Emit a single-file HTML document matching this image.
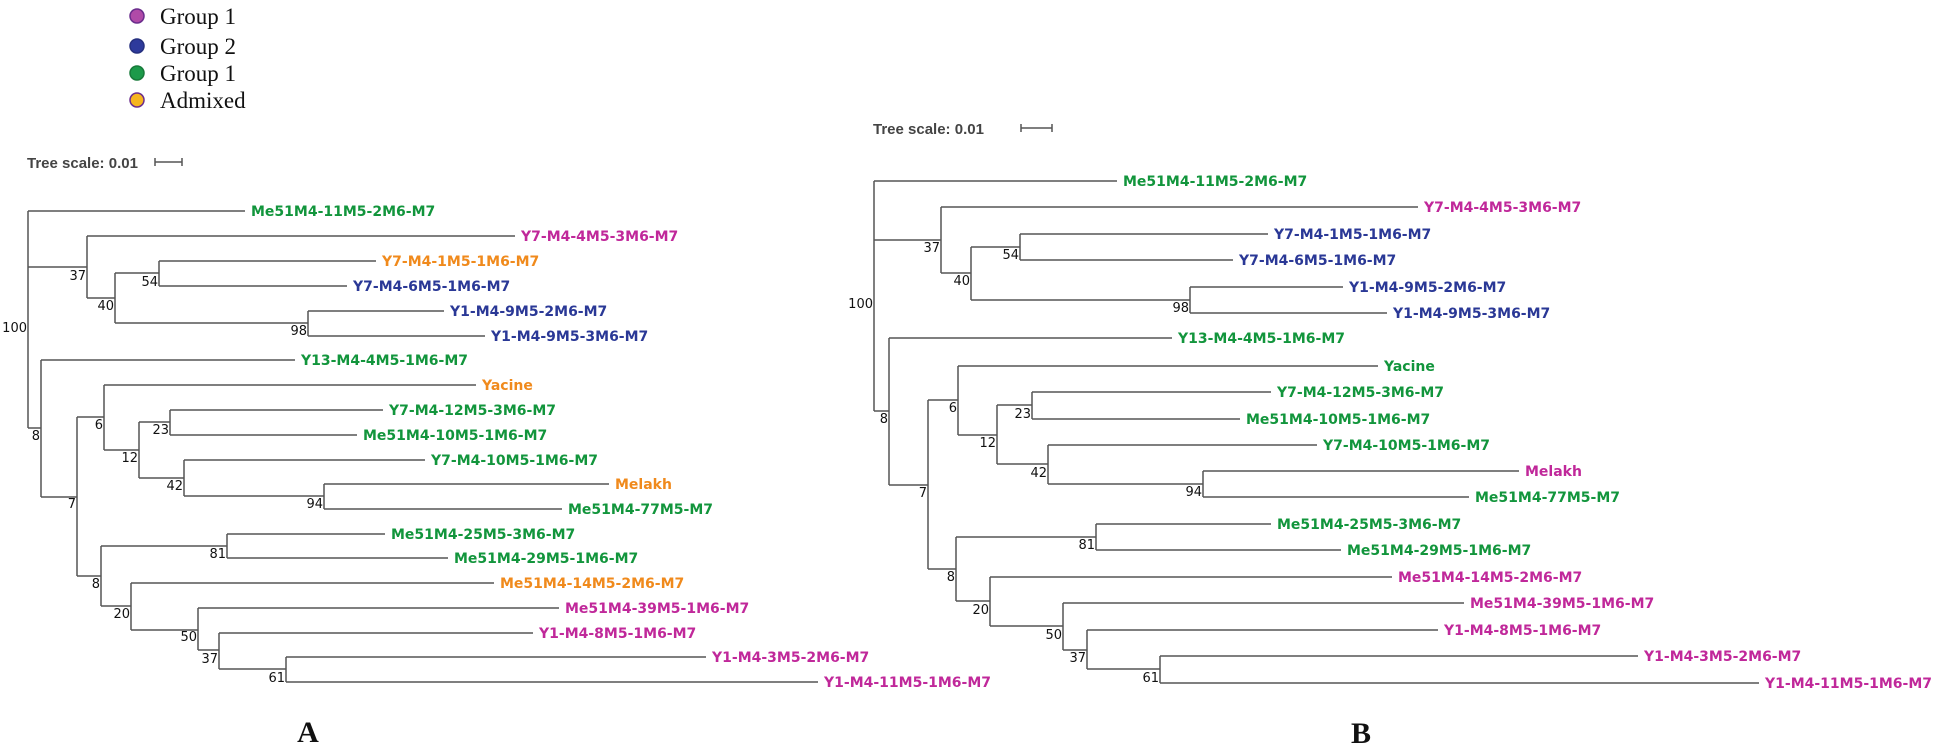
<!DOCTYPE html>
<html><head><meta charset="utf-8"><style>
html,body{margin:0;padding:0;background:#fff;}
svg{display:block;}
.b{stroke:#555;stroke-width:1.5;fill:none;}
.l{font-family:"DejaVu Sans","Liberation Sans",sans-serif;font-weight:bold;font-size:14px;}
.n{font-family:"DejaVu Sans","Liberation Sans",sans-serif;font-size:13px;fill:#111;text-anchor:end;}
.g{fill:#12953c}.m{fill:#c0289a}.u{fill:#2a3896}.o{fill:#f08a1c}
.ts{font-family:"Liberation Sans",sans-serif;font-weight:bold;font-size:15px;fill:#444;}
.lg{font-family:"Liberation Serif",serif;font-size:23px;fill:#111;}
.big{font-family:"Liberation Serif",serif;font-weight:bold;font-size:30px;fill:#111;text-anchor:middle;}
</style></head><body>
<svg width="1948" height="751" viewBox="0 0 1948 751" xmlns="http://www.w3.org/2000/svg">
<!-- legend -->
<circle cx="137" cy="16" r="7" fill="#b04aa8" stroke="#6a2c8c" stroke-width="1.5"/>
<circle cx="137" cy="46" r="7" fill="#2e3a9c" stroke="#26307f" stroke-width="1.5"/>
<circle cx="137" cy="73" r="7" fill="#1c9a4a" stroke="#177a3a" stroke-width="1.5"/>
<circle cx="137" cy="100" r="7" fill="#f6b51e" stroke="#6a2c8c" stroke-width="1.5"/>
<text class="lg" x="160" y="24">Group 1</text>
<text class="lg" x="160" y="54">Group 2</text>
<text class="lg" x="160" y="81">Group 1</text>
<text class="lg" x="160" y="108">Admixed</text>

<!-- Tree A -->
<text class="ts" x="27" y="168">Tree scale: 0.01</text>
<path class="b" d="M155 162H182M155 158V166M182 158V166"/>
<path class="b" d="
M28 211V428M28 211H245M28 267H87M28 428H41
M87 236V298M87 236H515M87 298H115
M115 273V323M115 273H159M115 323H308
M159 261V286M159 261H376M159 286H347
M308 311V336M308 311H444M308 336H485
M41 360V497M41 360H295M41 497H77
M77 417V576M77 417H104M77 576H101
M104 385V450M104 385H476M104 450H139
M139 422V478M139 422H170M139 478H184
M170 410V435M170 410H383M170 435H357
M184 460V496M184 460H425M184 496H324
M324 484V509M324 484H609M324 509H562
M101 546V606M101 546H227M101 606H131
M227 534V558M227 534H385M227 558H448
M131 583V630M131 583H494M131 630H198
M198 608V650M198 608H559M198 650H219
M219 633V669M219 633H533M219 669H286
M286 657V682M286 657H706M286 682H818"/>
<g class="l">
<text class="g" x="251" y="216">Me51M4-11M5-2M6-M7</text>
<text class="m" x="521" y="241">Y7-M4-4M5-3M6-M7</text>
<text class="o" x="382" y="266">Y7-M4-1M5-1M6-M7</text>
<text class="u" x="353" y="291">Y7-M4-6M5-1M6-M7</text>
<text class="u" x="450" y="316">Y1-M4-9M5-2M6-M7</text>
<text class="u" x="491" y="341">Y1-M4-9M5-3M6-M7</text>
<text class="g" x="301" y="365">Y13-M4-4M5-1M6-M7</text>
<text class="o" x="482" y="390">Yacine</text>
<text class="g" x="389" y="415">Y7-M4-12M5-3M6-M7</text>
<text class="g" x="363" y="440">Me51M4-10M5-1M6-M7</text>
<text class="g" x="431" y="465">Y7-M4-10M5-1M6-M7</text>
<text class="o" x="615" y="489">Melakh</text>
<text class="g" x="568" y="514">Me51M4-77M5-M7</text>
<text class="g" x="391" y="539">Me51M4-25M5-3M6-M7</text>
<text class="g" x="454" y="563">Me51M4-29M5-1M6-M7</text>
<text class="o" x="500" y="588">Me51M4-14M5-2M6-M7</text>
<text class="m" x="565" y="613">Me51M4-39M5-1M6-M7</text>
<text class="m" x="539" y="638">Y1-M4-8M5-1M6-M7</text>
<text class="m" x="712" y="662">Y1-M4-3M5-2M6-M7</text>
<text class="m" x="824" y="687">Y1-M4-11M5-1M6-M7</text>
</g>
<g class="n">
<text x="27" y="332">100</text>
<text x="86" y="280">37</text>
<text x="114" y="310">40</text>
<text x="158" y="286">54</text>
<text x="307" y="335">98</text>
<text x="40" y="440">8</text>
<text x="76" y="508">7</text>
<text x="103" y="429">6</text>
<text x="138" y="462">12</text>
<text x="169" y="434">23</text>
<text x="183" y="490">42</text>
<text x="323" y="508">94</text>
<text x="100" y="588">8</text>
<text x="226" y="558">81</text>
<text x="130" y="618">20</text>
<text x="197" y="641">50</text>
<text x="218" y="663">37</text>
<text x="285" y="682">61</text>
</g>
<text class="big" x="308" y="742">A</text>

<!-- Tree B -->
<text class="ts" x="873" y="134">Tree scale: 0.01</text>
<path class="b" d="M1021 128H1052M1021 124V132M1052 124V132"/>
<path class="b" d="
M874 181V411M874 181H1117M874 240H941M874 411H889
M941 207V273M941 207H1418M941 273H971
M971 247V300M971 247H1020M971 300H1190
M1020 234V260M1020 234H1268M1020 260H1233
M1190 287V313M1190 287H1343M1190 313H1387
M889 338V485M889 338H1172M889 485H928
M928 400V569M928 400H958M928 569H956
M958 366V435M958 366H1378M958 435H997
M997 405V464M997 405H1032M997 464H1048
M1032 392V419M1032 392H1271M1032 419H1240
M1048 445V484M1048 445H1317M1048 484H1203
M1203 471V497M1203 471H1519M1203 497H1469
M956 537V601M956 537H1096M956 601H990
M1096 524V550M1096 524H1271M1096 550H1341
M990 577V626M990 577H1392M990 626H1063
M1063 603V650M1063 603H1464M1063 650H1087
M1087 630V669M1087 630H1438M1087 669H1160
M1160 656V683M1160 656H1638M1160 683H1759"/>
<g class="l">
<text class="g" x="1123" y="186">Me51M4-11M5-2M6-M7</text>
<text class="m" x="1424" y="212">Y7-M4-4M5-3M6-M7</text>
<text class="u" x="1274" y="239">Y7-M4-1M5-1M6-M7</text>
<text class="u" x="1239" y="265">Y7-M4-6M5-1M6-M7</text>
<text class="u" x="1349" y="292">Y1-M4-9M5-2M6-M7</text>
<text class="u" x="1393" y="318">Y1-M4-9M5-3M6-M7</text>
<text class="g" x="1178" y="343">Y13-M4-4M5-1M6-M7</text>
<text class="g" x="1384" y="371">Yacine</text>
<text class="g" x="1277" y="397">Y7-M4-12M5-3M6-M7</text>
<text class="g" x="1246" y="424">Me51M4-10M5-1M6-M7</text>
<text class="g" x="1323" y="450">Y7-M4-10M5-1M6-M7</text>
<text class="m" x="1525" y="476">Melakh</text>
<text class="g" x="1475" y="502">Me51M4-77M5-M7</text>
<text class="g" x="1277" y="529">Me51M4-25M5-3M6-M7</text>
<text class="g" x="1347" y="555">Me51M4-29M5-1M6-M7</text>
<text class="m" x="1398" y="582">Me51M4-14M5-2M6-M7</text>
<text class="m" x="1470" y="608">Me51M4-39M5-1M6-M7</text>
<text class="m" x="1444" y="635">Y1-M4-8M5-1M6-M7</text>
<text class="m" x="1644" y="661">Y1-M4-3M5-2M6-M7</text>
<text class="m" x="1765" y="688">Y1-M4-11M5-1M6-M7</text>
</g>
<g class="n">
<text x="873" y="308">100</text>
<text x="940" y="252">37</text>
<text x="970" y="285">40</text>
<text x="1019" y="259">54</text>
<text x="1189" y="312">98</text>
<text x="888" y="423">8</text>
<text x="927" y="497">7</text>
<text x="957" y="412">6</text>
<text x="996" y="447">12</text>
<text x="1031" y="418">23</text>
<text x="1047" y="477">42</text>
<text x="1202" y="496">94</text>
<text x="955" y="581">8</text>
<text x="1095" y="549">81</text>
<text x="989" y="614">20</text>
<text x="1062" y="639">50</text>
<text x="1086" y="662">37</text>
<text x="1159" y="682">61</text>
</g>
<text class="big" x="1361" y="743">B</text>
</svg>
</body></html>
